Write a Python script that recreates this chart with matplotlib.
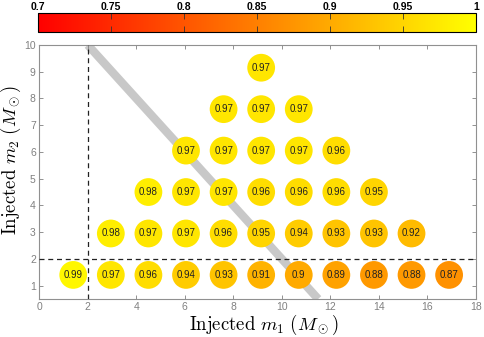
import numpy as np
import matplotlib
matplotlib.use("Agg")
import matplotlib.pyplot as plt
from matplotlib.colors import Normalize

# grid of injected masses
masses = [1.4, 2.95, 4.5, 6.05, 7.6, 9.15, 10.7, 12.25, 13.8, 15.35, 16.9]

# rows by m2 index; each row starts at m1 index == m2 index
row0 = [0.99, 0.97, 0.96, 0.94, 0.93, 0.91, 0.9, 0.89, 0.88, 0.88, 0.87]
row1 = [0.98, 0.97, 0.97, 0.96, 0.95, 0.94, 0.93, 0.93, 0.92]
row2 = [0.98, 0.97, 0.97, 0.96, 0.96, 0.96, 0.95]
row3 = [0.97, 0.97, 0.97, 0.97, 0.96]
row4 = [0.97, 0.97, 0.97]
row5 = [0.97]
rows = [row0, row1, row2, row3, row4, row5]

xticks = list(range(0, 19, 2))
yticks = list(range(1, 11))
cticks = [0.7, 0.75, 0.8, 0.85, 0.9, 0.95, 1.0]
ctick_labels = ["0.7", "0.75", "0.8", "0.85", "0.9", "0.95", "1"]

m1, m2, val = [], [], []
for j, r in enumerate(rows):
    for k, v in enumerate(r):
        m1.append(masses[j + k])
        m2.append(masses[j])
        val.append(v)

plt.rcParams['mathtext.fontset'] = 'cm'
plt.rcParams['font.family'] = ['Liberation Sans', 'DejaVu Sans']

fig = plt.figure(figsize=(4.85, 3.37), dpi=100)
ax = fig.add_axes([0.081, 0.1128, 0.9, 0.7537])
cax = fig.add_axes([0.079, 0.906, 0.902, 0.0546])

cmap = plt.get_cmap('autumn')
norm = Normalize(0.7, 1.0)

# total mass line m1 + m2 = 12
lx = np.array([2, 11.5])
ax.plot(lx, 12 - lx, color='#c8c8c8', lw=6, solid_capstyle='butt', zorder=1)

sc = ax.scatter(m1, m2, c=val, cmap=cmap, norm=norm, s=400, edgecolors='none', zorder=2)
for x, y, v in zip(m1, m2, val):
    ax.text(x, y, f"{v:g}", ha='center', va='center', fontsize=7, color='#222222', zorder=3)

ax.axvline(2, color='#222222', ls=(0, (4, 3)), lw=0.9, zorder=4)
ax.axhline(2, color='#222222', ls=(0, (4, 3)), lw=0.9, zorder=4)

ax.set_xlim(0, 18)
ax.set_ylim(0.5, 10)
ax.set_xticks(xticks)
ax.set_yticks(yticks)
ax.tick_params(direction='in', top=True, right=True, length=3, width=0.6,
               labelsize=7.5, colors='#808080', labelcolor='#808080', pad=2.5)
for s in ax.spines.values():
    s.set_color('#909090')
    s.set_linewidth(0.8)

fig.text(263.5 / 485, 1 - 330 / 337, r'$\mathrm{Injected}\ m_1\ (M_\odot)$',
         fontsize=13.5, ha='center', va='baseline')
fig.text(16 / 485, 1 - 160 / 337, r'$\mathrm{Injected}\ m_2\ (M_\odot)$',
         fontsize=13.5, ha='center', va='baseline', rotation=90, rotation_mode='anchor')

cb = fig.colorbar(sc, cax=cax, orientation='horizontal')
cb.set_ticks(cticks)
cb.set_ticklabels(ctick_labels)
cax.xaxis.set_ticks_position('both')
cax.xaxis.set_label_position('top')
cax.tick_params(axis='x', direction='in', length=4, width=0.6, labeltop=True, labelbottom=False,
                labelsize=7.5, color='#333333', pad=1)
for t in cax.get_xticklabels():
    t.set_fontweight('bold')
cb.outline.set_linewidth(0.8)
cb.outline.set_edgecolor('black')

fig.savefig('out.png', dpi=100)
